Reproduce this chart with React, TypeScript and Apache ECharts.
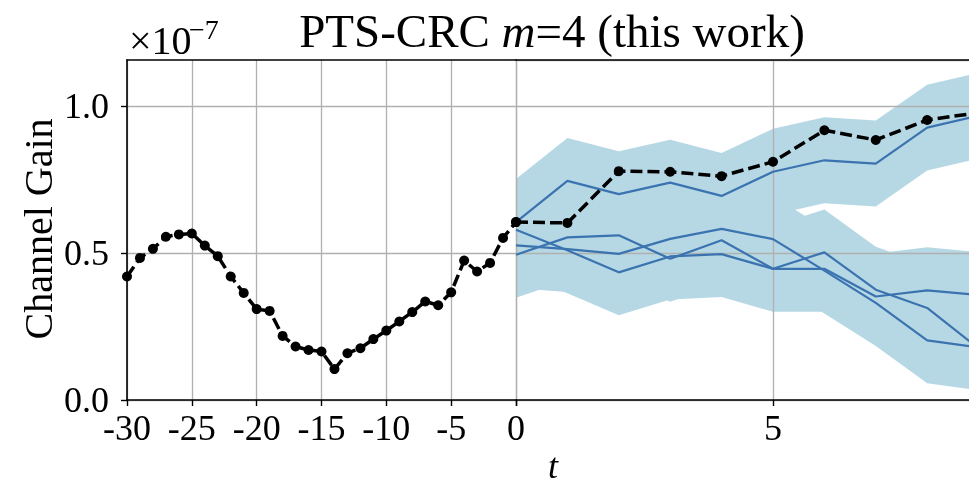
import React, { useEffect, useRef } from "react";
import * as echarts from "echarts";

// ---- data (values in units of 1e-7) ----
const pastT = [-30, -29, -28, -27, -26, -25, -24, -23, -22, -21, -20, -19, -18, -17, -16, -15, -14, -13, -12, -11, -10, -9, -8, -7, -6, -5, -4, -3, -2, -1, 0];
const pastGain = [0.42, 0.483, 0.514, 0.555, 0.563, 0.566, 0.525, 0.489, 0.42, 0.364, 0.309, 0.303, 0.218, 0.182, 0.17, 0.165, 0.105, 0.159, 0.176, 0.207, 0.236, 0.267, 0.299, 0.335, 0.322, 0.366, 0.474, 0.437, 0.466, 0.551, 0.605];

const futureT = [0, 1, 2, 3, 4, 5, 6, 7, 8, 9];
const futureGain = [0.605, 0.602, 0.778, 0.776, 0.761, 0.81, 0.917, 0.884, 0.952, 0.977];

const trajA = [0.605, 0.745, 0.7, 0.739, 0.694, 0.776, 0.815, 0.804, 0.926, 0.967];
const trajB = [0.579, 0.509, 0.434, 0.488, 0.496, 0.446, 0.446, 0.352, 0.373, 0.357];
const trajC = [0.526, 0.513, 0.497, 0.548, 0.582, 0.547, 0.44, 0.33, 0.203, 0.179];
const trajD = [0.494, 0.553, 0.56, 0.48, 0.543, 0.446, 0.502, 0.375, 0.313, 0.175];
const trajectories = [trajA, trajB, trajC, trajD];

// conformal band half-width around each trajectory
const bandRadius = 0.146;

const yTicks = [0, 0.5, 1.0];
const pastRange = [-30, 0];
const futureRange = [0, 8.95];
const yRange = [0, 1.156];

const serif = "'Liberation Serif', 'Times New Roman', serif";

export default function App() {
  const ref = useRef<HTMLDivElement>(null);

  useEffect(() => {
    if (!ref.current) return;
    const chart = echarts.init(ref.current, undefined, { renderer: "svg" });

    const grid = [
      { left: 127, top: 60, width: 389, height: 340, outerBoundsMode: "none", containLabel: false },
      { left: 516, top: 60, width: 460, height: 340, outerBoundsMode: "none", containLabel: false },
    ];

    const gridLine = { show: true, lineStyle: { color: "#b0b0b0", width: 1.3 } };
    const spine = { show: true, onZero: false, lineStyle: { color: "#000", width: 1.6 } };
    const tick = { show: true, length: 6, lineStyle: { color: "#000", width: 1.4 } };
    const labelStyle = { fontFamily: serif, fontSize: 36, color: "#000" };

    const xAxis: any[] = [
      {
        type: "value", gridIndex: 0, min: pastRange[0], max: pastRange[1], interval: 5, position: "bottom",
        axisLine: spine, axisTick: tick,
        axisLabel: { ...labelStyle, margin: 10, formatter: (v: number) => String(v) },
        splitLine: gridLine, z: 2,
      },
      {
        type: "value", gridIndex: 1, min: futureRange[0], max: futureRange[1], interval: 5, position: "bottom",
        axisLine: spine, axisTick: tick,
        axisLabel: { ...labelStyle, margin: 10, formatter: (v: number) => (v === 5 ? "5" : "") },
        splitLine: gridLine, z: 2,
      },
      {
        type: "value", gridIndex: 0, min: pastRange[0], max: pastRange[1], position: "top",
        axisLine: spine, axisTick: { show: false }, axisLabel: { show: false }, splitLine: { show: false }, z: 2,
      },
      {
        type: "value", gridIndex: 1, min: futureRange[0], max: futureRange[1], position: "top",
        axisLine: spine, axisTick: { show: false }, axisLabel: { show: false }, splitLine: { show: false }, z: 2,
      },
    ];

    const yAxis: any[] = [
      {
        type: "value", gridIndex: 0, min: yRange[0], max: yRange[1], interval: 0.5,
        axisLine: spine, axisTick: { ...tick, customValues: yTicks },
        axisLabel: {
          ...labelStyle, margin: 18, customValues: yTicks,
          formatter: (v: number) => (Math.abs(v * 2 - Math.round(v * 2)) < 1e-6 ? v.toFixed(1) : ""),
        },
        splitLine: gridLine, z: 2,
      },
      {
        type: "value", gridIndex: 1, min: yRange[0], max: yRange[1], interval: 0.5,
        axisLine: { show: false }, axisTick: { show: false }, axisLabel: { show: false },
        splitLine: gridLine, z: 2,
      },
    ];

    const bandColor = "#b6d8e4";
    const series: any[] = [];
    // confidence bands: one polygon per trajectory, positioned through the axis scales
    series.push({
      type: "custom", xAxisIndex: 1, yAxisIndex: 1, z: 1, silent: true,
      data: trajectories.map((_, k) => [k]),
      renderItem: (params: any, api: any) => {
        const k = api.value(0);
        const traj = trajectories[k];
        const upper = futureT.map((t, i) => api.coord([t, traj[i] + bandRadius]));
        const lower = futureT.map((t, i) => api.coord([t, traj[i] - bandRadius])).reverse();
        return {
          type: "polygon",
          shape: { points: upper.concat(lower) },
          style: { fill: bandColor, stroke: "none" },
        };
      },
    });
    trajectories.forEach((traj) => {
      series.push({
        type: "line", xAxisIndex: 1, yAxisIndex: 1,
        data: futureT.map((t, i) => [t, traj[i]]),
        symbol: "none", lineStyle: { color: "#3a73b0", width: 2.2 }, z: 3,
        emphasis: { disabled: true },
      });
    });
    const truthStyle = {
      type: "line", symbol: "circle", symbolSize: 10,
      itemStyle: { color: "#000" },
      lineStyle: { color: "#000", width: 3.5, type: [12, 5] },
      z: 4, emphasis: { disabled: true },
    };
    series.push({ ...truthStyle, xAxisIndex: 0, yAxisIndex: 0, data: pastT.map((t, i) => [t, pastGain[i]]) });
    series.push({ ...truthStyle, xAxisIndex: 1, yAxisIndex: 1, data: futureT.map((t, i) => [t, futureGain[i]]) });

    chart.setOption({
      animation: false,
      grid,
      xAxis,
      yAxis,
      series,
      graphic: [
        {
          type: "text", x: 552, y: 31,
          style: {
            text: "PTS-CRC {i|m}=4 (this work)",
            fontFamily: serif, fontSize: 47, fill: "#000", align: "center", verticalAlign: "middle",
            rich: { i: { fontFamily: serif, fontSize: 47, fontStyle: "italic", fill: "#000" } },
          },
        },
        {
          type: "text", x: 129, y: 40,
          style: { text: "×10", fontFamily: serif, fontSize: 40, fill: "#000", align: "left", verticalAlign: "middle" },
        },
        {
          type: "text", x: 189, y: 29,
          style: { text: "−7", fontFamily: serif, fontSize: 28, fill: "#000", align: "left", verticalAlign: "middle" },
        },
        {
          type: "text", x: 38, y: 229, rotation: Math.PI / 2,
          style: { text: "Channel Gain", fontFamily: serif, fontSize: 40, fill: "#000", align: "center", verticalAlign: "middle" },
        },
        {
          type: "text", x: 553, y: 466,
          style: { text: "t", fontFamily: serif, fontSize: 36, fontStyle: "italic", fill: "#000", align: "center", verticalAlign: "middle" },
        },
      ],
    });

    return () => chart.dispose();
  }, []);

  return <div ref={ref} style={{ position: "fixed", left: 0, top: 0, width: 969, height: 488 }} />;
}
